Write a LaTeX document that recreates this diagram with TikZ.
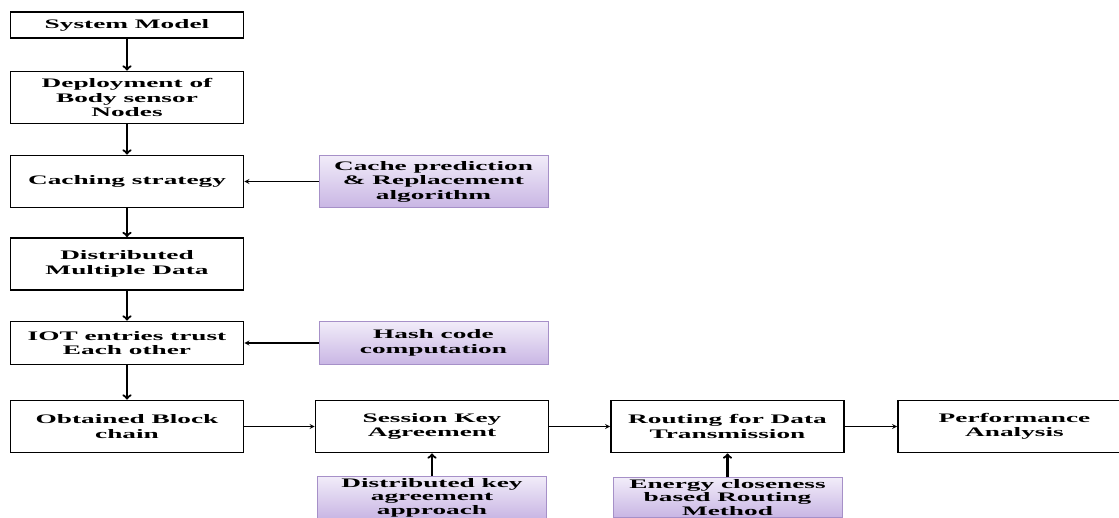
\documentclass[tikz,border=0pt]{standalone}
\usepackage{fontspec}
\setmainfont{Liberation Serif}[FakeStretch=2.1]
\definecolor{lilactop}{HTML}{F1ECF9}
\definecolor{lilacbot}{HTML}{C9B6E4}
\definecolor{lilacline}{HTML}{A690C8}
\begin{document}
\begin{tikzpicture}[x=1pt,y=1pt,font=\fontsize{13}{14.5}\selectfont\bfseries]
\useasboundingbox (0,0) rectangle (1119,517);
\clip (0,0) rectangle (1119,517);
\tikzset{
  stage/.style={rectangle, draw=black, line width=1.8pt, fill=white, minimum width=233pt, minimum height=52pt, align=center, inner sep=2pt},
  method/.style={rectangle, draw=lilacline, line width=0.9pt, top color=lilactop, bottom color=lilacbot, minimum width=229pt, minimum height=52pt, align=center, inner sep=2pt}
}
\node (sys) [stage, minimum height=26pt] at (127,492) {System Model};
\node (dep) [stage, below of=sys, node distance=72.5pt] {Deployment of\\Body sensor\\Nodes};
\node (cach) [stage, below of=dep, node distance=84pt] {Caching strategy};
\node (dist) [stage, below of=cach, node distance=82.5pt] {Distributed\\Multiple Data};
\node (iot) [stage, below of=dist, node distance=79pt, minimum height=43pt] {IOT entries trust\\Each other};
\node (block) [stage, below of=iot, node distance=83.5pt] {Obtained Block\\chain};
\node (sess) [stage, right of=block, node distance=305pt] {Session Key\\Agreement};
\node (rout) [stage, right of=sess, node distance=295.5pt] {Routing for Data\\Transmission};
\node (perf) [stage, right of=rout, node distance=287pt] {Performance\\Analysis};
\node (cpred) [method, right of=cach, node distance=306.5pt] {Cache prediction\\\& Replacement\\algorithm};
\node (hash) [method, right of=iot, node distance=306.5pt, minimum height=43pt] {Hash code\\computation};
\node (dkey) [method, below of=sess, node distance=71pt, minimum height=0pt, inner ysep=1.5pt, font=\fontsize{13}{13.5}\selectfont\bfseries] {Distributed key\\agreement\\approach};
\node (energy) [method, below of=rout, node distance=71pt, minimum height=0pt, inner ysep=1.5pt, font=\fontsize{13}{13.5}\selectfont\bfseries] {Energy closeness\\based Routing\\Method};
\tikzstyle{arrow} = [line width=1.2pt,->,>=stealth]
\tikzstyle{downarrow} = [line width=2.2pt,->,>=to]
\draw [downarrow] (sys) -- (dep);
\draw [downarrow] (dep) -- (cach);
\draw [downarrow] (cach) -- (dist);
\draw [downarrow] (dist) -- (iot);
\draw [downarrow] (iot) -- (block);
\draw [arrow] (cpred) -- (cach);
\draw [arrow] (hash) -- (iot);
\draw [arrow] (block) -- (sess);
\draw [arrow] (sess) -- (rout);
\draw [arrow] (rout) -- (perf);
\draw [downarrow] (dkey) -- (sess);
\draw [downarrow] (energy) -- (rout);
\end{tikzpicture}
\end{document}
